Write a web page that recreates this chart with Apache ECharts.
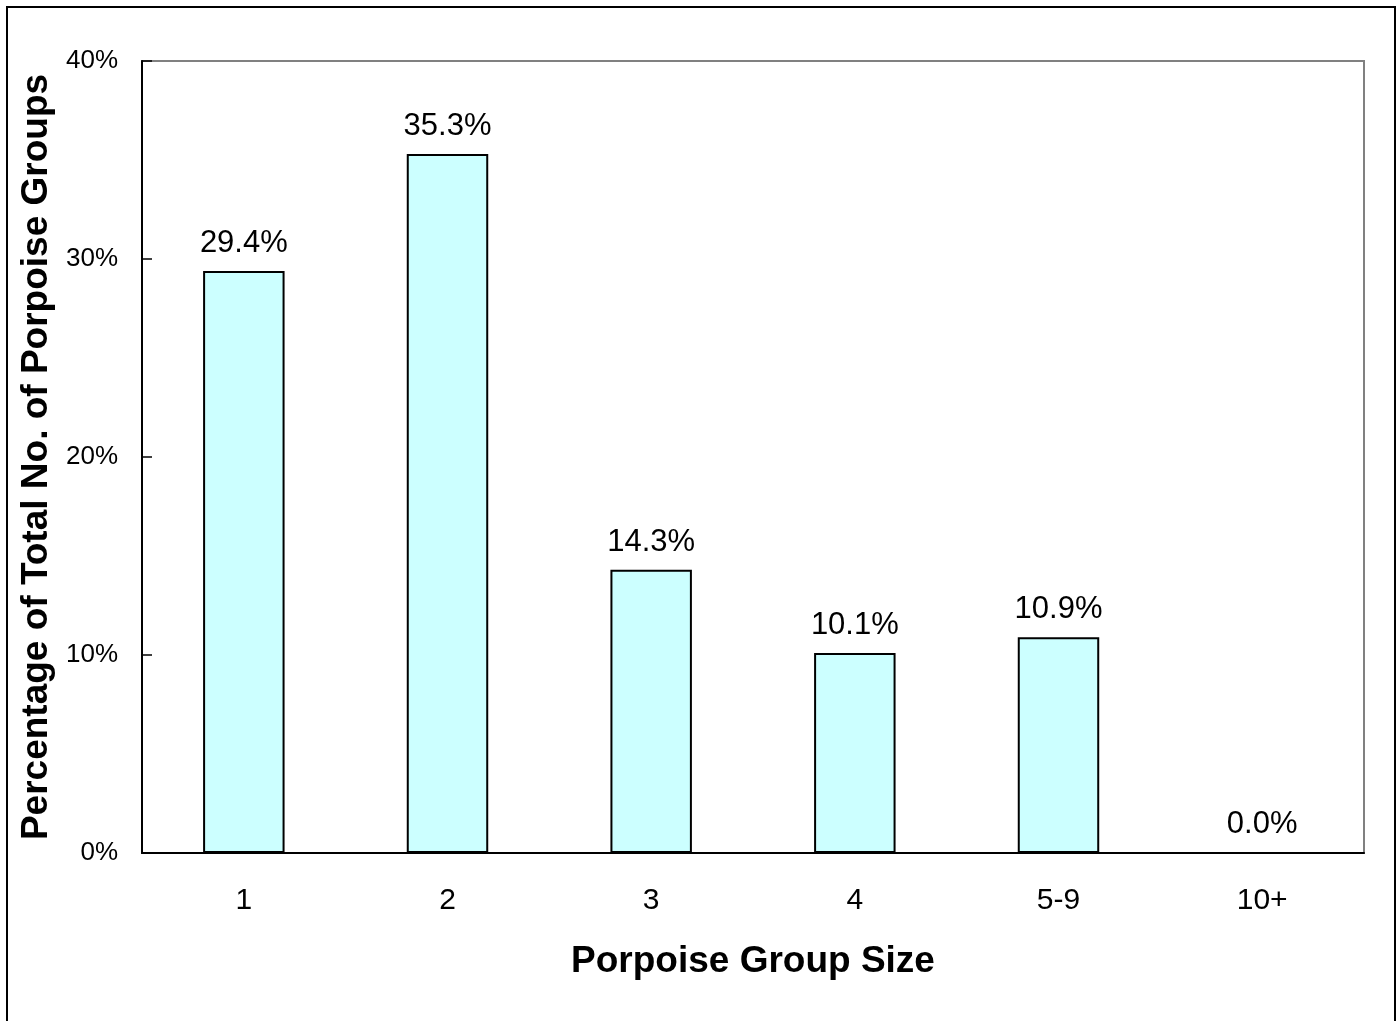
<!DOCTYPE html>
<html>
<head>
<meta charset="utf-8">
<script src="https://cdn.jsdelivr.net/npm/echarts@6/dist/echarts.min.js"></script>
<style>
  html, body { margin: 0; padding: 0; background: #ffffff; }
  #chart { width: 1400px; height: 1021px; }
</style>
</head>
<body>
<div id="chart"></div>
<script>
// Group size classes and the share of all sighted porpoise groups (percent)
const groupSizes = ['1', '2', '3', '4', '5-9', '10+'];
const groupShares = [29.4, 35.3, 14.3, 10.1, 10.9, 0.0];
const yTicks = [0, 10, 20, 30, 40];

const FONT = '"Liberation Sans", Arial, sans-serif';

const chart = echarts.init(document.getElementById('chart'), null, { renderer: 'canvas' });

chart.setOption({
  backgroundColor: '#ffffff',
  animation: false,
  graphic: [{
    type: 'rect',
    shape: { x: 7, y: 7, width: 1388, height: 1030 },
    style: { fill: 'none', stroke: '#000000', lineWidth: 2 },
    silent: true
  }],
  grid: {
    left: 142, right: 36, top: 61, bottom: 168,
    show: true,
    borderColor: '#808080',
    borderWidth: 2,
    backgroundColor: 'transparent'
  },
  xAxis: {
    type: 'category',
    data: groupSizes,
    boundaryGap: true,
    name: 'Porpoise Group Size',
    nameLocation: 'middle',
    nameGap: 90,
    nameTextStyle: { fontFamily: FONT, fontSize: 37, fontWeight: 'bold', color: '#000' },
    axisLine: { lineStyle: { color: '#000', width: 2 } },
    axisTick: { inside: true, length: 10, lineStyle: { color: '#000', width: 1.5 } },
    axisLabel: { fontFamily: FONT, fontSize: 30, color: '#000', margin: 33 },
    splitLine: { show: false }
  },
  yAxis: {
    type: 'value',
    min: yTicks[0],
    max: yTicks[yTicks.length - 1],
    interval: 10,
    name: 'Percentage of Total No. of Porpoise Groups',
    nameLocation: 'middle',
    nameGap: 80,
    nameTextStyle: { fontFamily: FONT, fontSize: 37, fontWeight: 'bold', color: '#000' },
    axisLine: { show: true, lineStyle: { color: '#000', width: 2 } },
    axisTick: { show: true, inside: true, length: 10, lineStyle: { color: '#000', width: 1.5 } },
    axisLabel: { fontFamily: FONT, fontSize: 26, color: '#000', margin: 24, formatter: v => v + '%' },
    splitLine: { show: false }
  },
  series: [{
    type: 'bar',
    data: groupShares,
    barWidth: '40%',
    itemStyle: { color: '#CCFFFF', borderColor: '#000', borderWidth: 2 },
    label: {
      show: true,
      position: 'top',
      distance: 12,
      fontFamily: FONT,
      fontSize: 31,
      color: '#000',
      formatter: p => p.value.toFixed(1) + '%'
    }
  }]
});
</script>
</body>
</html>
